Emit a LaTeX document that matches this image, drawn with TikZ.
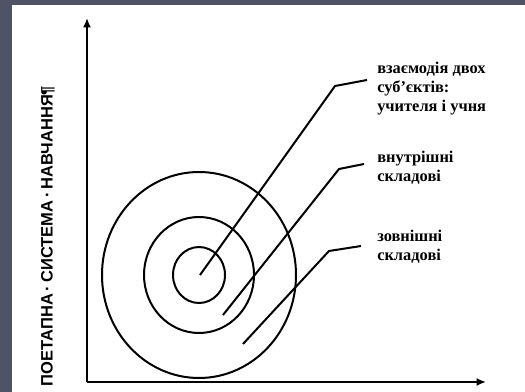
\documentclass[tikz,border=0pt]{standalone}
\usepackage{fontspec}
\setmainfont{Liberation Serif}
\newfontfamily\axisfont{Liberation Sans}
\usetikzlibrary{positioning,calc,arrows.meta}
\definecolor{framegray}{RGB}{80,83,102}

\begin{document}
\begin{tikzpicture}[x=0.75pt, y=-0.75pt,
  ring/.style={line width=1.5pt},
  leader/.style={line width=1.5pt},
  axis/.style={line width=1.5pt, -{Latex[length=7pt,width=6pt]}},
  lbl/.style={anchor=west, align=left, inner sep=0pt,
    font=\bfseries\fontsize{12.3}{14.25}\selectfont}]
  \useasboundingbox (0,0) rectangle (525,392);
  % frame
  \fill[framegray] (0,0) rectangle (525,392);
  \fill[white] (12,5) rectangle (525,392);

  % axes
  \coordinate (O) at (87,382);
  \coordinate (ytop) at (87,18);
  \coordinate (xend) at (486,382);
  \draw[axis] (O) -- (ytop);
  \draw[axis] (O) -- (xend);
  \node[rotate=90, font=\axisfont\bfseries\fontsize{12.4}{14}\selectfont] (ylab) at (48,236) {ПОЕТАПНА\,·\,СИСТЕМА\,·\,НАВЧАННЯ¶};

  % rings
  \coordinate (ctr) at (199,275);
  \draw[ring] (ctr) ellipse [x radius=26, y radius=28];
  \draw[ring] (ctr) ellipse [x radius=55, y radius=58];
  \draw[ring] (ctr) ellipse [x radius=97, y radius=103];

  % labels
  \node[lbl] (lblcore) at (377,89) {взаємодія двох\\суб’єктів:\\учителя і учня};
  \node[lbl] (lblin) at (377,168) {внутрішні\\складові};
  \node[lbl] (lblout) at (377,247) {зовнішні\\складові};

  % leaders
  \coordinate (s1) at (200,275);
  \coordinate (k1) at (335,86);
  \draw[leader] (s1) -- (k1) -- ($(lblcore.west)+(-10,-9)$);
  \coordinate (s2) at (223,315);
  \coordinate (k2) at (339,169);
  \draw[leader] (s2) -- (k2) -- ($(lblin.west)+(-13,-4)$);
  \coordinate (s3) at (243,344);
  \coordinate (k3) at (329,251);
  \draw[leader] (s3) -- (k3) -- ($(lblout.west)+(-16,-1)$);
\end{tikzpicture}
\end{document}
